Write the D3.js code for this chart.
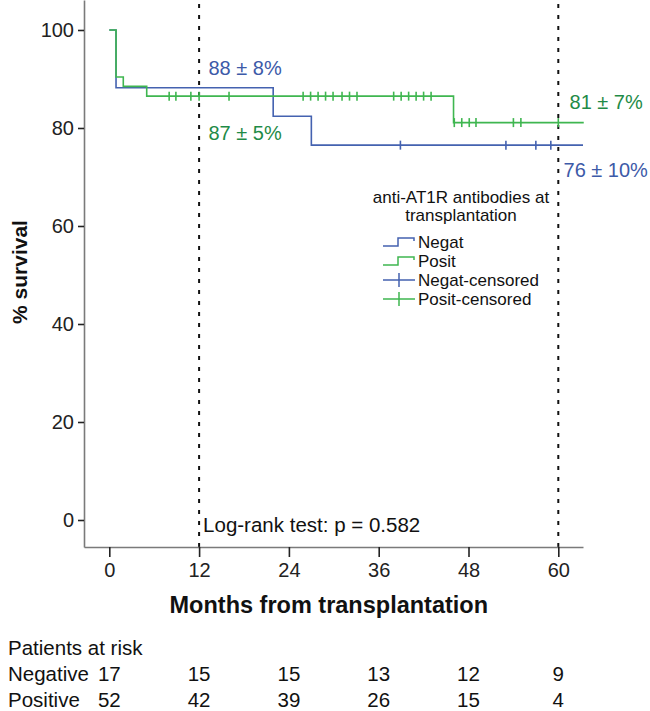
<!DOCTYPE html>
<html><head><meta charset="utf-8">
<script src="https://cdn.jsdelivr.net/npm/d3@7"></script>
<style>
body{margin:0;background:#fff;}
svg{display:block;font-family:Arial,"Liberation Sans",sans-serif;}
</style></head>
<body>
<svg id="chart" width="650" height="711"></svg>
<script>
// ---------- data ----------
const xTicks = [0, 12, 24, 36, 48, 60];
const yTicks = [0, 20, 40, 60, 80, 100];
const refLines = [12, 60];

const negTimes = [0, 0.9, 21.9, 27.0];
const negSurv  = [100, 88.2, 82.4, 76.5];
const negEnd   = 63.3;
const negCensored = [38.9, 53.0, 57.0, 59.0];

const posTimes = [0, 0.9, 1.87, 5.0, 46.0];
const posSurv  = [100, 90.4, 88.5, 86.5, 81.1];
const posEnd   = 63.4;
const posCensored = [8.0, 8.9, 10.9, 12.0, 16.0, 25.9, 26.9, 27.9, 28.9, 29.9, 31.1, 32.1, 33.1,
                     38.0, 39.0, 40.0, 41.0, 42.0, 43.0, 46.1, 47.1, 48.1, 49.0, 54.0, 55.0, 60.0];

const riskGroups = ["Negative", "Positive"];
const negAtRisk = [17, 15, 15, 13, 12, 9];
const posAtRisk = [52, 42, 39, 26, 15, 4];

const annotations = [
  {text: "88 ± 8%", t: 13.25, v: 90.9, grp: "neg"},
  {text: "87 ± 5%", t: 13.25, v: 77.5, grp: "pos"},
  {text: "81 ± 7%", t: 61.5, v: 83.9, grp: "pos"},
  {text: "76 ± 10%", t: 60.7, v: 70.0, grp: "neg"}
];
const legendTitle = ["anti-AT1R antibodies at", "transplantation"];
const legendItems = [
  {label: "Negat", grp: "neg", kind: "step"},
  {label: "Posit", grp: "pos", kind: "step"},
  {label: "Negat-censored", grp: "neg", kind: "cens"},
  {label: "Posit-censored", grp: "pos", kind: "cens"}
];

// ---------- styles ----------
const lineCol = {neg: "#4462b0", pos: "#3fb650"};
const textCol = {neg: "#3d5aa8", pos: "#1f8b47"};
const axisCol = "#7a7a7a";

const svg = d3.select("#chart");
const x = d3.scaleLinear().domain([-3.38, 63.3]).range([84, 583]);
const y = d3.scaleLinear().domain([-5.51, 106.12]).range([547, 0]);

// reference dashed lines
svg.selectAll(".ref").data(refLines).join("line")
  .attr("x1", d => x(d)).attr("x2", d => x(d))
  .attr("y1", 4).attr("y2", y.range()[0])
  .attr("stroke", "#111").attr("stroke-width", 2)
  .attr("stroke-dasharray", "4,7");

// axes
const xAxis = svg.append("g").attr("transform", `translate(0,${y.range()[0]})`)
  .call(d3.axisBottom(x).tickValues(xTicks).tickSize(10).tickSizeOuter(0).tickPadding(6));
const yAxis = svg.append("g").attr("transform", `translate(${x.range()[0]},0)`)
  .call(d3.axisLeft(y).tickValues(yTicks).tickSize(6).tickSizeOuter(0).tickPadding(4));
[xAxis, yAxis].forEach(g => {
  g.select(".domain").attr("stroke", axisCol).attr("stroke-width", 1.6);
  g.selectAll(".tick line").attr("stroke", "#222").attr("stroke-width", 1.6);
  g.selectAll(".tick text").attr("fill", "#222").style("font-size", "20px")
    .style("font-family", 'Arial,"Liberation Sans",sans-serif');
});

// step curves
function stepPath(times, surv, end) {
  const pts = times.map((t, i) => [t, surv[i]]);
  pts.push([end, surv[surv.length - 1]]);
  return d3.line().x(d => x(d[0])).y(d => y(d[1])).curve(d3.curveStepAfter)(pts);
}
function survAt(times, surv, t) {
  let v = surv[0];
  times.forEach((tt, i) => { if (t >= tt) v = surv[i]; });
  return v;
}
const groups = [
  {grp: "neg", times: negTimes, surv: negSurv, end: negEnd, cens: negCensored},
  {grp: "pos", times: posTimes, surv: posSurv, end: posEnd, cens: posCensored}
];
groups.forEach(g => {
  svg.append("path").attr("d", stepPath(g.times, g.surv, g.end))
    .attr("fill", "none").attr("stroke", lineCol[g.grp]).attr("stroke-width", 1.6);
  svg.selectAll(".c" + g.grp).data(g.cens).join("line")
    .attr("x1", d => x(d)).attr("x2", d => x(d))
    .attr("y1", d => y(survAt(g.times, g.surv, d)) - 4.5)
    .attr("y2", d => y(survAt(g.times, g.surv, d)) + 4.5)
    .attr("stroke", lineCol[g.grp]).attr("stroke-width", 1.6);
});

// annotations
svg.selectAll(".ann").data(annotations).join("text")
  .attr("x", d => x(d.t)).attr("y", d => y(d.v))
  .attr("fill", d => textCol[d.grp]).style("font-size", "20px")
  .text(d => d.text);

// legend
const lg = svg.append("g");
lg.selectAll(".lt").data(legendTitle).join("text")
  .attr("x", 461).attr("y", (d, i) => 203 + i * 18)
  .attr("text-anchor", "middle").attr("fill", "#111").style("font-size", "17px")
  .text(d => d);
legendItems.forEach((it, i) => {
  const cy = 242 + i * 19;
  if (it.kind === "step") {
    lg.append("path").attr("d", `M383,${cy + 4}H398V${cy - 4}H414V${cy - 1}`)
      .attr("fill", "none").attr("stroke", lineCol[it.grp]).attr("stroke-width", 1.5);
  } else {
    lg.append("path").attr("d", `M383,${cy}H415M399,${cy - 7}V${cy + 7}`)
      .attr("fill", "none").attr("stroke", lineCol[it.grp]).attr("stroke-width", 1.5);
  }
  lg.append("text").attr("x", 418).attr("y", cy + 6).attr("fill", "#111")
    .style("font-size", "17px").text(it.label);
});

// log-rank text
svg.append("text").attr("x", x(12) + 4).attr("y", 532).attr("fill", "#111")
  .style("font-size", "20.5px").text("Log-rank test: p = 0.582");

// axis titles
svg.append("text").attr("x", (x(0) + x(60)) / 2 - 5).attr("y", 613)
  .attr("text-anchor", "middle").attr("fill", "#111")
  .style("font-size", "23.5px").style("font-weight", "bold")
  .text("Months from transplantation");
svg.append("text").attr("transform", `translate(27,272) rotate(-90)`)
  .attr("text-anchor", "middle").attr("fill", "#111")
  .style("font-size", "21px").style("font-weight", "bold")
  .text("% survival");

// patients at risk
svg.append("text").attr("x", 8).attr("y", 655).attr("fill", "#111")
  .style("font-size", "20.5px").text("Patients at risk");
[negAtRisk, posAtRisk].forEach((arr, r) => {
  const by = 681 + r * 26;
  svg.append("text").attr("x", 8).attr("y", by).attr("fill", "#111")
    .style("font-size", "20.5px").text(riskGroups[r]);
  svg.selectAll(".risk" + r).data(arr).join("text")
    .attr("x", (d, i) => x(xTicks[i])).attr("y", by)
    .attr("text-anchor", "middle").attr("fill", "#111")
    .style("font-size", "20.5px").text(d => d);
});
</script>
</body></html>
